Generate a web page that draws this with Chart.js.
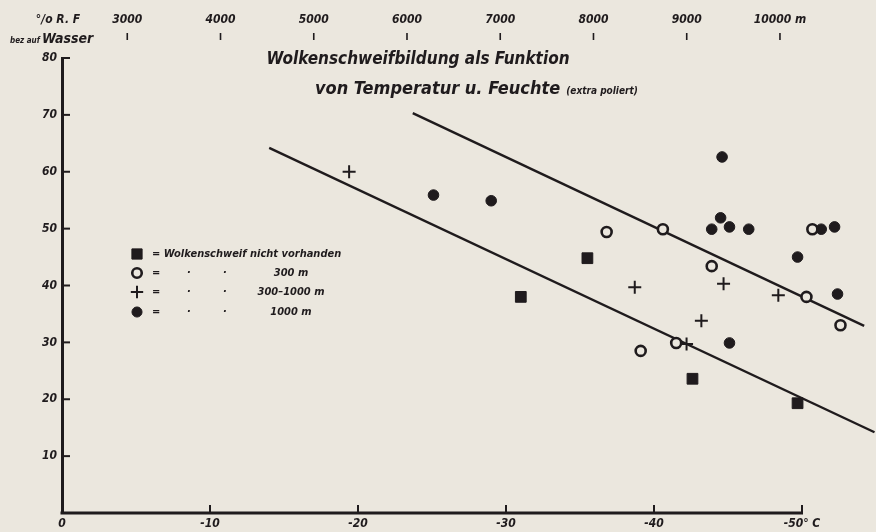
<!DOCTYPE html>
<html lang="de">
<head>
<meta charset="UTF-8">
<title>Wolkenschweifbildung</title>
<script src="https://cdn.jsdelivr.net/npm/chart.js"></script>
<style>
  html, body { margin: 0; padding: 0; background: #ebe7de; }
  .wrap { position: relative; width: 876px; height: 532px; }
</style>
</head>
<body>
<div class="wrap"><canvas id="chart" width="876" height="532"></canvas></div>
<script>
// Temperature (°C) and relative humidity (%)
const noTrailX   = [-31.0, -35.5, -42.6, -49.7];
const noTrailY   = [38.0, 44.8, 23.6, 19.3];
const trail300X  = [-36.8, -40.6, -43.9, -50.7, -50.3, -52.6, -39.1, -41.5];
const trail300Y  = [49.4, 49.9, 43.4, 49.9, 38.0, 33.0, 28.5, 29.9];
const trailMidX  = [-19.4, -38.7, -44.7, -48.4, -43.2, -42.2];
const trailMidY  = [60.0, 39.7, 40.3, 38.3, 33.8, 29.7];
const trail1000X = [-25.1, -29.0, -44.6, -44.5, -43.9, -45.1, -46.4, -51.3, -52.2, -49.7, -52.4, -45.1];
const trail1000Y = [55.9, 54.9, 62.6, 51.9, 49.9, 50.3, 49.9, 49.9, 50.3, 45.0, 38.5, 29.9];
const lowerLineX = [-14.0, -54.9];
const lowerLineY = [64.2, 14.2];
const upperLineX = [-23.7, -54.2];
const upperLineY = [70.3, 32.9];

// axes
const tempTicks = [0, -10, -20, -30, -40, -50];
const tempMin = -55, tempAxisEnd = -50;  // plot runs past the drawn axis line
const humTicks  = [10, 20, 30, 40, 50, 60, 70, 80];
const altTicks  = [3000, 4000, 5000, 6000, 7000, 8000, 9000, 10000];
const altMin = 2300, altMax = 11030;     // altitude at the 0 °C and -55 °C edges

const legendLabels = [
  'Wolkenschweif nicht vorhanden',
  '300 m',
  '300\u20131000 m',
  '1000 m'
];
const titleLine1 = 'Wolkenschweifbildung als Funktion';
const titleLine2 = 'von Temperatur u. Feuchte';
const titleNote  = '(extra poliert)';

const INK = '#1f1b1d';
const PAPER = '#ebe7de';
const FONT = "'Liberation Sans Narrow', 'DejaVu Sans Condensed', 'Liberation Sans', sans-serif";

const pts = (xs, ys) => xs.map((x, i) => ({ x: x, y: ys[i] }));

// x axis line (stops at -50), tick marks pointing inward, altitude marks up top
const axisMarks = {
  id: 'axisMarks',
  afterDraw(chart) {
    const { ctx, chartArea, scales } = chart;
    ctx.save();
    ctx.strokeStyle = INK;
    ctx.lineWidth = 3;
    ctx.beginPath();
    ctx.moveTo(chartArea.left - 1.5, chartArea.bottom);
    ctx.lineTo(scales.x.getPixelForValue(tempAxisEnd) + 1, chartArea.bottom);
    ctx.stroke();

    ctx.lineWidth = 2;
    scales.y.ticks.forEach(t => {
      const py = scales.y.getPixelForValue(t.value);
      ctx.beginPath();
      ctx.moveTo(chartArea.left, py);
      ctx.lineTo(chartArea.left + 8, py);
      ctx.stroke();
    });
    scales.x.ticks.forEach(t => {
      if (t.value === 0) return;
      const px = scales.x.getPixelForValue(t.value);
      ctx.beginPath();
      ctx.moveTo(px, chartArea.bottom);
      ctx.lineTo(px, chartArea.bottom - 8);
      ctx.stroke();
    });
    ctx.lineWidth = 1.6;
    scales.alt.ticks.forEach(t => {
      const px = scales.alt.getPixelForValue(t.value);
      ctx.beginPath();
      ctx.moveTo(px, 33);
      ctx.lineTo(px, 40);
      ctx.stroke();
    });
    ctx.restore();
  }
};

// titles and the y axis caption
const captions = {
  id: 'captions',
  afterDraw(chart) {
    const ctx = chart.ctx;
    ctx.save();
    ctx.fillStyle = INK;
    ctx.textBaseline = 'middle';
    ctx.textAlign = 'center';
    ctx.font = 'italic bold 17px ' + FONT;
    ctx.fillText(titleLine1, 418, 60);

    ctx.textAlign = 'left';
    ctx.font = 'italic bold 18px ' + FONT;
    ctx.fillText(titleLine2, 315, 89);
    const w = ctx.measureText(titleLine2).width;
    ctx.font = 'italic bold 10px ' + FONT;
    ctx.fillText(titleNote, 315 + w + 6, 91);

    ctx.textAlign = 'center';
    ctx.font = 'italic bold 12px ' + FONT;
    ctx.fillText('\u00b0/o R. F', 58, 20);
    ctx.textAlign = 'left';
    ctx.font = 'italic bold 8px ' + FONT;
    ctx.fillText('bez auf', 10, 41);
    ctx.font = 'italic bold 14px ' + FONT;
    ctx.fillText('Wasser', 42, 39);
    ctx.restore();
  }
};

// legend block inside the plot, symbols taken from the point datasets
const symbolLegend = {
  id: 'symbolLegend',
  afterDraw(chart) {
    const ctx = chart.ctx;
    const rows = [254, 273, 292, 312];
    ctx.save();
    ctx.textBaseline = 'middle';
    rows.forEach((ry, i) => {
      const ds = chart.data.datasets[i];
      ctx.fillStyle = ds.backgroundColor;
      ctx.strokeStyle = ds.borderColor;
      ctx.lineWidth = ds.borderWidth;
      Chart.helpers.drawPoint(ctx, {
        pointStyle: ds.pointStyle,
        radius: ds.pointRadius * 0.95,
        borderWidth: ds.borderWidth
      }, 137, ry);
      ctx.fillStyle = INK;
      ctx.font = 'italic bold 11px ' + FONT;
      ctx.textAlign = 'left';
      if (i === 0) {
        ctx.fillText('= ' + legendLabels[i], 152, ry);
      } else {
        ctx.fillText('=', 152, ry);
        ctx.fillText('\u00b7', 187, ry);
        ctx.fillText('\u00b7', 223, ry);
        ctx.textAlign = 'center';
        ctx.fillText(legendLabels[i], 291, ry);
      }
    });
    ctx.restore();
  }
};

const tickFont = { family: FONT, size: 12, style: 'italic', weight: 'bold' };
const noSidePadding = s => { s.paddingLeft = 0; s.paddingRight = 0; };

new Chart(document.getElementById('chart'), {
  type: 'scatter',
  data: {
    datasets: [
      { label: legendLabels[0], data: pts(noTrailX, noTrailY), pointStyle: 'rect', pointRadius: 7.6,
        backgroundColor: INK, borderColor: INK, borderWidth: 1, clip: false },
      { label: legendLabels[1], data: pts(trail300X, trail300Y), pointStyle: 'circle', pointRadius: 5,
        backgroundColor: PAPER, borderColor: INK, borderWidth: 2.6, clip: false },
      { label: legendLabels[2], data: pts(trailMidX, trailMidY), pointStyle: 'cross', pointRadius: 6.5,
        backgroundColor: INK, borderColor: INK, borderWidth: 2, clip: false },
      { label: legendLabels[3], data: pts(trail1000X, trail1000Y), pointStyle: 'circle', pointRadius: 5.3,
        backgroundColor: INK, borderColor: INK, borderWidth: 1, clip: false },
      { label: 'lower', data: pts(lowerLineX, lowerLineY), showLine: true, pointRadius: 0,
        borderColor: INK, borderWidth: 2.4, clip: false },
      { label: 'upper', data: pts(upperLineX, upperLineY), showLine: true, pointRadius: 0,
        borderColor: INK, borderWidth: 2.4, clip: false }
    ]
  },
  options: {
    responsive: false,
    animation: false,
    layout: { autoPadding: false, padding: { left: 0, right: 0, top: 0, bottom: 0 } },
    plugins: { legend: { display: false }, tooltip: { enabled: false } },
    scales: {
      x: {
        type: 'linear', position: 'bottom', reverse: true, min: tempMin, max: 0,
        afterBuildTicks: s => { s.ticks = tempTicks.map(v => ({ value: v })); },
        afterFit: s => { s.height = 19; noSidePadding(s); },
        grid: { display: false, drawTicks: false },
        border: { display: false },
        ticks: {
          padding: 4, color: INK, font: tickFont, maxRotation: 0, autoSkip: false,
          callback: v => (v === -50 ? '-50\u00b0 C' : String(v))
        }
      },
      alt: {
        type: 'linear', position: 'top', min: altMin, max: altMax,
        afterBuildTicks: s => { s.ticks = altTicks.map(v => ({ value: v })); },
        afterFit: s => { s.height = 58; noSidePadding(s); },
        grid: { display: false, drawTicks: false },
        border: { display: false },
        ticks: {
          padding: 31, color: INK, font: tickFont, maxRotation: 0, autoSkip: false,
          callback: v => (v === 10000 ? '10000 m' : String(v))
        }
      },
      y: {
        type: 'linear', min: 0, max: 80,
        afterBuildTicks: s => { s.ticks = humTicks.map(v => ({ value: v })); },
        afterFit: s => { s.width = 62; s.paddingTop = 0; s.paddingBottom = 0; },
        grid: { display: false, drawTicks: false },
        border: { display: true, color: INK, width: 3 },
        ticks: { padding: 5, color: INK, font: tickFont, autoSkip: false }
      }
    }
  },
  plugins: [axisMarks, captions, symbolLegend]
});
</script>
</body>
</html>
